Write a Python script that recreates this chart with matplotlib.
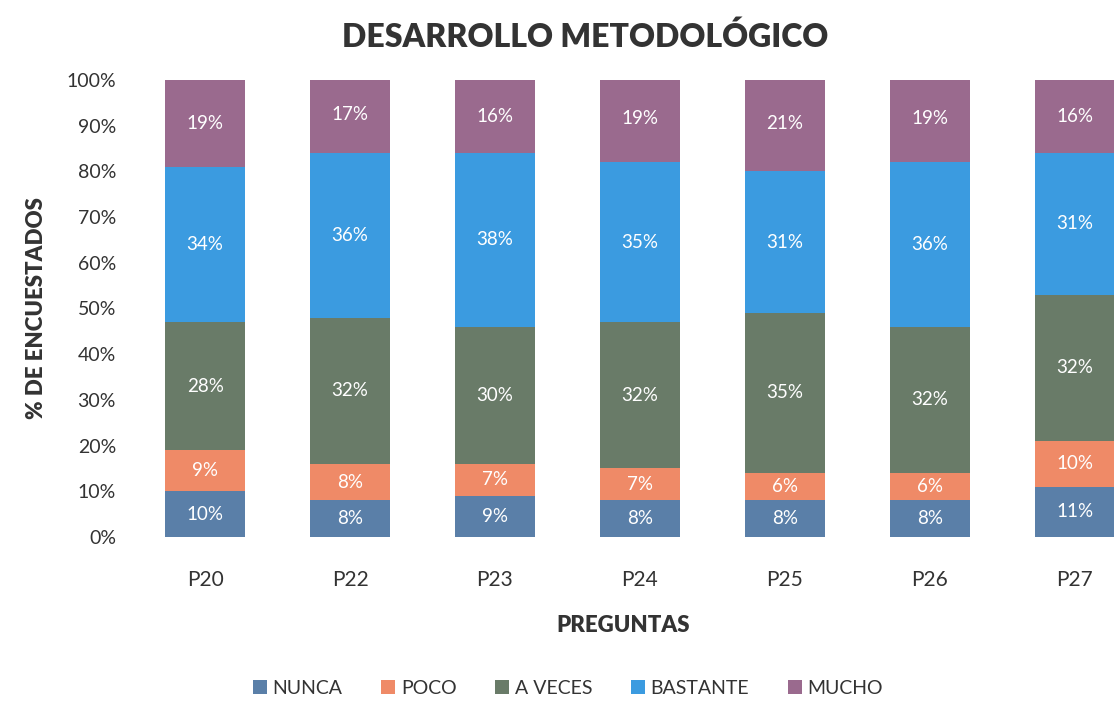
import matplotlib.pyplot as plt
import numpy as np

plt.rcParams['font.family'] = ['Lato', 'DejaVu Sans']

preguntas = ['P20', 'P22', 'P23', 'P24', 'P25', 'P26', 'P27']
nunca = [10, 8, 9, 8, 8, 8, 11]
poco = [9, 8, 7, 7, 6, 6, 10]
a_veces = [28, 32, 30, 32, 35, 32, 32]
bastante = [34, 36, 38, 35, 31, 36, 31]
mucho = [19, 17, 16, 19, 21, 19, 16]

series = [('NUNCA', nunca, '#5a7fa8'),
          ('POCO', poco, '#ef8a67'),
          ('A VECES', a_veces, '#697b68'),
          ('BASTANTE', bastante, '#3b9be0'),
          ('MUCHO', mucho, '#9a6a8e')]

fig = plt.figure(figsize=(11.14, 7.01), dpi=100)
ax = fig.add_axes([0.119, 0.234, 0.881, 0.652])

x = np.arange(len(preguntas))
bottom = np.zeros(len(preguntas))
for name, vals, col in series:
    vals = np.array(vals, dtype=float)
    ax.bar(x, vals, 0.55, bottom=bottom, color=col, label=name)
    for xi, b, v in zip(x, bottom, vals):
        ax.text(xi, b + v / 2, f'{int(v)}%', ha='center', va='center',
                color='white', fontsize=13.5)
    bottom += vals

ax.set_xlim(-0.5, 6.27)
ax.set_ylim(0, 100)
ax.set_yticks(range(0, 101, 10))
ax.set_yticklabels([f'{v}%' for v in range(0, 101, 10)], fontsize=14, color='#333333')
ax.set_xticks(x)
ax.set_xticklabels(preguntas, fontsize=15, color='#333333')
ax.tick_params(axis='y', length=0, pad=12)
ax.tick_params(axis='x', length=0, pad=24)
for s in ax.spines.values():
    s.set_visible(False)

ax.set_ylabel('% DE ENCUESTADOS', fontsize=16, fontweight='heavy', color='#333333', labelpad=14)
ax.set_xlabel('PREGUNTAS', fontsize=16, fontweight='heavy', color='#333333', labelpad=18)
fig.text(0.525, 0.947, 'DESARROLLO METODOLÓGICO', ha='center', va='center',
         fontsize=23, fontweight='heavy', color='#333333')

fig.legend(loc='center', bbox_to_anchor=(0.51, 0.018), ncol=5, frameon=False,
           fontsize=14, handlelength=0.7, handleheight=0.7, handletextpad=0.3,
           columnspacing=2.0, labelcolor='#333333')

fig.savefig('out.png', dpi=100, facecolor='white')
